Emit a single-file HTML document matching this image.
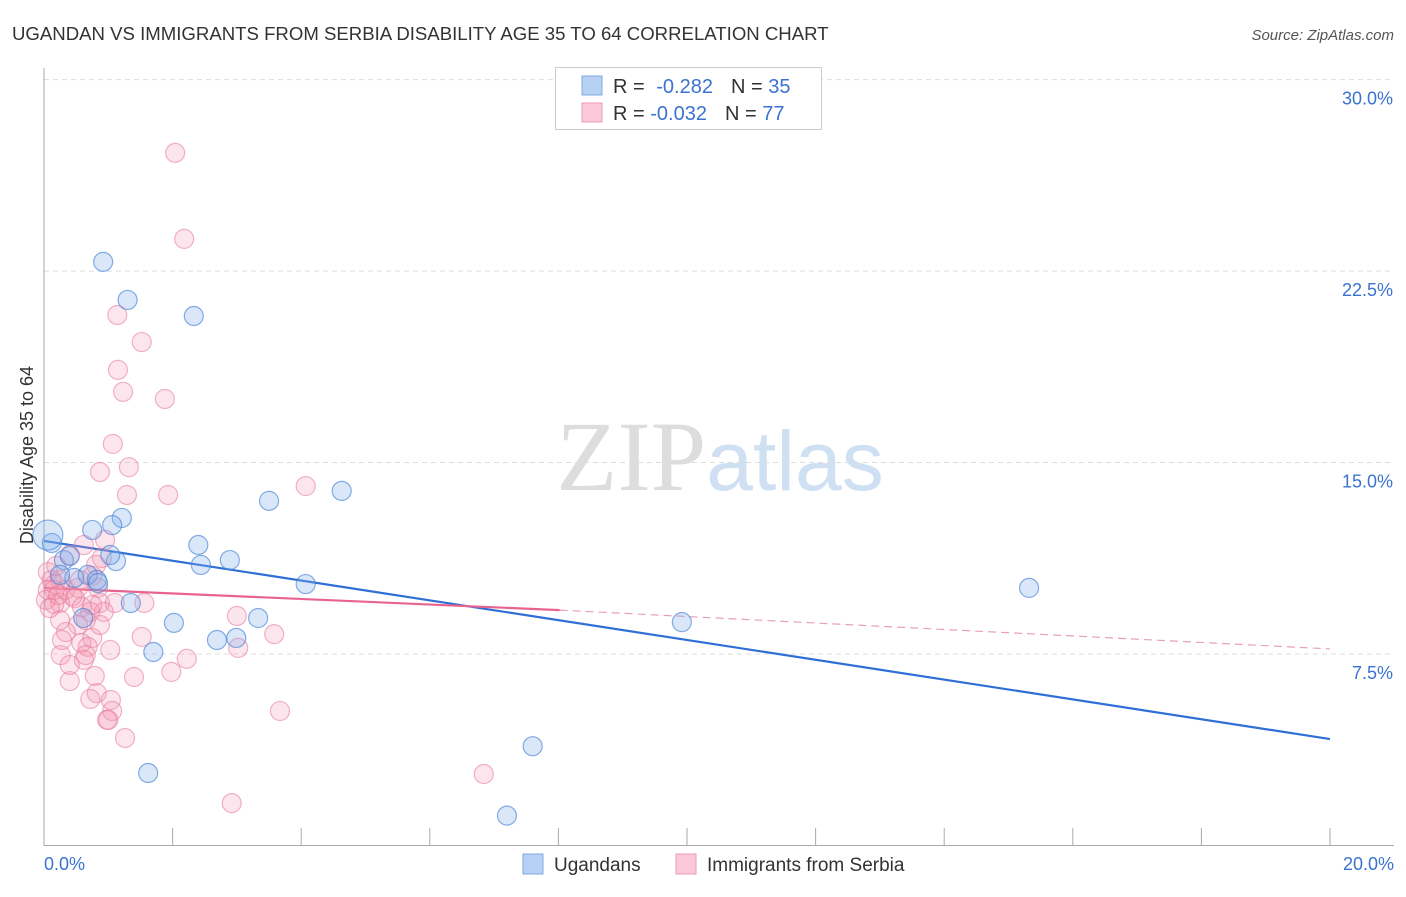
<!DOCTYPE html>
<html><head><meta charset="utf-8"><style>
body{margin:0;background:#fff;font-family:"Liberation Sans",sans-serif;}
svg text{font-family:"Liberation Sans",sans-serif;}
</style></head><body>
<svg id="chart" width="1406" height="892" viewBox="0 0 1406 892">
<text x="12" y="40" font-size="18.6" fill="#333">UGANDAN VS IMMIGRANTS FROM SERBIA DISABILITY AGE 35 TO 64 CORRELATION CHART</text>
<text x="1394" y="40" font-size="15" fill="#555" font-style="italic" text-anchor="end">Source: ZipAtlas.com</text>
<text x="720" y="490" text-anchor="middle"><tspan fill="#dddddd" font-family="Liberation Serif" font-size="100">ZIP</tspan><tspan fill="#d0e0f3" font-size="84">atlas</tspan></text>
<text transform="translate(33,455) rotate(-90)" font-size="18" fill="#333" text-anchor="middle">Disability Age 35 to 64</text>
<g id="grid"></g><g id="axes"></g><g id="lines"></g><g id="pts"></g>
<g>
<rect x="555.5" y="67.5" width="266" height="62" fill="#fff" stroke="#ccc"/>
<rect x="582" y="76" width="20" height="19" fill="#b6d1f3" stroke="#7fa9e0"/>
<rect x="582" y="103" width="20" height="19" fill="#fbc9d8" stroke="#ee9ab6"/>
<text x="613" y="93" font-size="20" fill="#333">R = <tspan fill="#3a73d0" dx="6">-0.282</tspan><tspan dx="18" fill="#333">N = </tspan><tspan fill="#3a73d0">35</tspan></text>
<text x="613" y="120" font-size="20" fill="#333">R = <tspan fill="#3a73d0">-0.032</tspan><tspan dx="18" fill="#333">N = </tspan><tspan fill="#3a73d0">77</tspan></text>
</g>
<g>
<rect x="523" y="854" width="20" height="20" fill="#b6d1f3" stroke="#7fa9e0"/>
<text x="554" y="871" font-size="19" fill="#333">Ugandans</text>
<rect x="676" y="854" width="20" height="20" fill="#fbc9d8" stroke="#ee9ab6"/>
<text x="707" y="871" font-size="19" fill="#333">Immigrants from Serbia</text>
</g>
</svg>
<script>
const yTicks=[7.5,15,22.5,30];
const yTickLabels=["7.5%","15.0%","22.5%","30.0%"];
const xTickLabels=["0.0%","20.0%"];
const blueX=[0.92,1.30,2.33,0.12,0.75,1.21,1.06,1.12,1.03,0.31,0.40,0.47,0.68,0.82,0.61,1.35,2.02,1.70,2.40,2.44,2.89,2.69,2.99,3.33,3.50,4.63,4.07,15.32,9.92,7.60,1.62,7.20,0.84,0.25,0.06];
const blueY=[22.86,21.37,20.74,11.85,12.36,12.83,12.55,11.14,11.38,11.18,11.34,10.48,10.60,10.40,8.91,9.50,8.72,7.58,11.77,10.99,11.18,8.05,8.13,8.91,13.50,13.89,10.24,10.09,8.75,3.89,2.84,1.17,10.28,10.60,12.16];
const pinkX=[2.04,2.18,1.14,1.52,1.15,1.23,1.88,1.07,0.87,1.32,1.29,1.93,4.07,0.62,0.95,0.90,0.40,0.06,0.12,0.17,0.25,0.06,0.33,0.44,0.53,0.75,0.84,0.25,0.48,0.87,1.10,1.56,0.16,0.59,0.93,0.25,0.53,0.34,0.75,1.52,0.58,0.68,3.00,3.58,3.02,0.26,0.62,2.22,1.98,0.40,0.79,1.40,0.82,0.72,1.04,1.06,0.98,1.00,1.26,3.67,6.84,2.92,0.16,0.03,0.22,0.09,0.72,0.28,0.65,1.03,0.65,0.87,0.40,0.75,0.56,0.81,0.19];
const pinkY=[27.13,23.76,20.78,19.72,18.63,17.77,17.49,15.73,14.63,14.82,13.73,13.73,14.08,11.77,11.97,11.26,11.38,10.71,10.40,10.24,10.40,10.01,10.01,9.77,10.09,10.56,10.09,9.50,9.69,9.50,9.50,9.50,9.46,9.34,9.15,8.83,8.64,8.36,8.13,8.17,7.93,7.78,8.99,8.28,7.74,7.46,7.27,7.31,6.80,6.44,6.64,6.60,5.97,5.74,5.70,5.27,4.92,4.92,4.21,5.27,2.80,1.66,10.01,9.62,9.81,9.30,9.15,8.05,7.46,7.66,8.83,8.64,7.07,9.42,10.40,10.99,10.95];
const blueTrend=[11.93,4.17];
const pinkTrend=[10.09,9.22,7.70];
const pinkSolidEnd=8.02;

const X=v=>44+v/20*1286;
const Y=v=>845.5-v*25.53;
const NS="http://www.w3.org/2000/svg";
function mk(tag,parent,attrs){const e=document.createElementNS(NS,tag);for(const k in attrs)e.setAttribute(k,attrs[k]);parent.appendChild(e);return e;}
const grid=document.getElementById('grid'),axes=document.getElementById('axes'),lines=document.getElementById('lines'),pts=document.getElementById('pts');
yTicks.forEach((t,i)=>{
  const l=mk('line',grid,{x1:44,x2:1394,y1:Y(t),y2:Y(t),stroke:'#ddd','stroke-dasharray':'5,4'});
  
  
  const tx=mk('text',axes,{x:1393,y:Y(t)+25,'font-size':18,fill:'#3a73d0','text-anchor':'end'});
  tx.textContent=yTickLabels[i];
  
  
});
const ya=mk('line',axes,{x1:44,x2:44,y1:68,y2:846,stroke:'#aaa'});


const xa=mk('line',axes,{x1:44,x2:1394,y1:845.5,y2:845.5,stroke:'#aaa'});


for(let i=0;i<=10;i++){
  const t=mk('line',axes,{x1:X(i*2),x2:X(i*2),y1:828,y2:846,stroke:'#aaa'});
  
  
}
[[0,'start',44],[20,'end',1394]].forEach((a,i)=>{
  const tx=mk('text',axes,{x:a[2],y:870,'font-size':18,fill:'#3a73d0','text-anchor':a[1]});
  tx.textContent=xTickLabels[i];
  
  
});
function dot(x,y,r,fill,stroke,name){
  const c=mk('circle',pts,{cx:X(x),cy:Y(y),r:r,fill:fill,stroke:stroke,'stroke-width':1.2});
  
  
}
pinkX.forEach((x,i)=>dot(x,pinkY[i],9.5,'rgba(245,150,180,0.25)','rgba(230,120,155,0.55)','serbia-point'));
blueX.forEach((x,i)=>dot(x,blueY[i],i===blueX.length-1?15:9.5,'rgba(130,175,235,0.3)','rgba(70,130,215,0.65)','ugandan-point'));
const bl=mk('line',lines,{x1:X(0),y1:Y(blueTrend[0]),x2:X(20),y2:Y(blueTrend[1]),stroke:'#2f6fd6','stroke-width':2.2});


const pl=mk('line',lines,{x1:X(0),y1:Y(pinkTrend[0]),x2:X(pinkSolidEnd),y2:Y(pinkTrend[1]),stroke:'#e8648f','stroke-width':2.2});


const pd=mk('line',lines,{x1:X(pinkSolidEnd),y1:Y(pinkTrend[1]),x2:X(20),y2:Y(pinkTrend[2]),stroke:'#e8a0b8','stroke-width':1.2,'stroke-dasharray':'8,5'});


</script>
</body></html>
